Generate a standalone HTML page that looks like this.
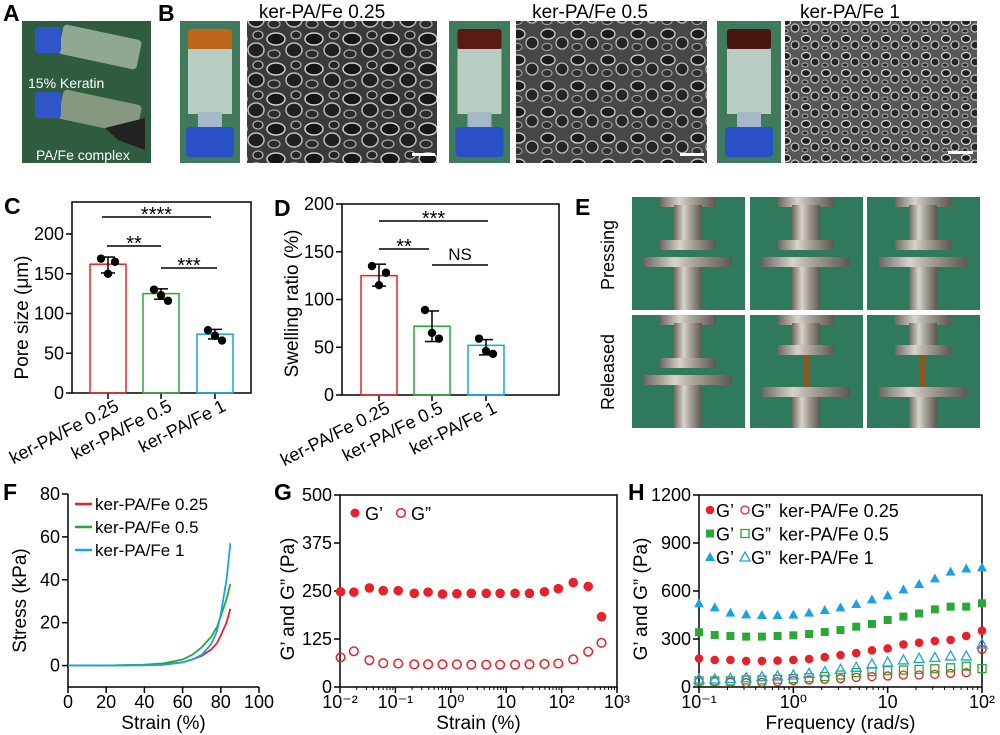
<!DOCTYPE html>
<html><head><meta charset="utf-8"><style>
body{margin:0;background:#fff}
svg{display:block;font-family:"Liberation Sans",Arial,sans-serif}
</style></head><body>
<svg id="fig" width="1000" height="735" viewBox="0 0 1000 735">
<defs>
<pattern id="foam1" width="38" height="30" patternUnits="userSpaceOnUse">
<rect width="38" height="30" fill="#3a3a3a"/>
<ellipse cx="10" cy="9" rx="9" ry="6" fill="#161616" stroke="#cfcfcf" stroke-width="1.5"/>
<ellipse cx="28" cy="20" rx="8" ry="7" fill="#202020" stroke="#bdbdbd" stroke-width="1.5"/>
<ellipse cx="8" cy="24" rx="6" ry="4" fill="#2a2a2a" stroke="#aaa" stroke-width="1.2"/>
<ellipse cx="30" cy="5" rx="5" ry="4" fill="#252525" stroke="#b5b5b5" stroke-width="1.2"/>
</pattern>
<pattern id="foam2" width="30" height="26" patternUnits="userSpaceOnUse">
<rect width="30" height="26" fill="#474747"/>
<ellipse cx="8" cy="8" rx="7" ry="5" fill="#1c1c1c" stroke="#cfcfcf" stroke-width="1.3"/>
<ellipse cx="22" cy="17" rx="6" ry="6" fill="#262626" stroke="#bbb" stroke-width="1.3"/>
<ellipse cx="7" cy="21" rx="5" ry="3.5" fill="#303030" stroke="#aaa" stroke-width="1"/>
</pattern>
<pattern id="foam3" width="20" height="17" patternUnits="userSpaceOnUse">
<rect width="20" height="17" fill="#575757"/>
<ellipse cx="6" cy="5" rx="4.5" ry="3.5" fill="#1e1e1e" stroke="#d5d5d5" stroke-width="1.2"/>
<ellipse cx="15" cy="11" rx="4" ry="4" fill="#262626" stroke="#c5c5c5" stroke-width="1.2"/>
<ellipse cx="5" cy="14" rx="3" ry="2" fill="#2a2a2a" stroke="#aaa" stroke-width="1"/>
</pattern>
<linearGradient id="metal" x1="0" x2="1" y1="0" y2="0">
<stop offset="0" stop-color="#6d675f"/><stop offset="0.35" stop-color="#d8d3cb"/><stop offset="0.6" stop-color="#a39d94"/><stop offset="1" stop-color="#5c574f"/>
</linearGradient>
</defs>

<!-- Panel A -->
<text x="3" y="21" font-size="23" font-weight="bold">A</text>
<g>
<rect x="22" y="21" width="129" height="142" fill="#2f5c3e"/>
<rect x="60" y="32" width="80" height="30" rx="4" fill="#b9c7b6" opacity="0.7" transform="rotate(12 100 47)"/>
<rect x="35" y="27" width="26" height="26" rx="3" fill="#2e56c9"/>
<rect x="60" y="97" width="80" height="30" rx="4" fill="#a9b49e" opacity="0.7" transform="rotate(12 100 112)"/>
<rect x="35" y="92" width="26" height="26" rx="3" fill="#2e56c9"/>
<path d="M105 128 L145 118 L145 150 L118 140 Z" fill="#222"/>
<text x="28" y="88" font-size="14" fill="#fff">15% Keratin</text>
<text x="36" y="160" font-size="14" fill="#fff">PA/Fe complex</text>
</g>

<!-- Panel B -->
<text x="158" y="21" font-size="23" font-weight="bold">B</text>
<text x="322" y="18" font-size="19" text-anchor="middle">ker-PA/Fe 0.25</text>
<text x="590" y="18" font-size="19" text-anchor="middle">ker-PA/Fe 0.5</text>
<text x="850" y="18" font-size="19" text-anchor="middle">ker-PA/Fe 1</text>
<g id="bottles"></g>
<rect x="247" y="21" width="190" height="142" fill="url(#foam1)"/>
<rect x="412" y="153" width="23" height="3" fill="#fff"/>
<rect x="516" y="21" width="191" height="142" fill="url(#foam2)"/>
<rect x="680" y="153" width="24" height="3" fill="#fff"/>
<rect x="785" y="21" width="192" height="142" fill="url(#foam3)"/>
<rect x="948" y="151" width="25" height="3" fill="#fff"/>

<!-- Panel E -->
<text x="575" y="215" font-size="23" font-weight="bold">E</text>
<text transform="translate(614 255) rotate(-90)" font-size="18" text-anchor="middle">Pressing</text>
<text transform="translate(614 372) rotate(-90)" font-size="18" text-anchor="middle">Released</text>
<g id="rheo"></g>

<g id="pC"></g><g id="pD"></g><g id="pF"></g><g id="pG"></g><g id="pH"></g>
</svg>
<script>
// ---------- data ----------
const groups = ["ker-PA/Fe 0.25","ker-PA/Fe 0.5","ker-PA/Fe 1"];
const poreMean = [162,125,74];
const poreErrHi = [171,131,80];
const poreErrLo = [151,118,68];
const porePts = [[169,165,150],[130,116,123],[79,66,72]];
const swellMean = [125,72,52];
const swellErrHi = [137,88,58];
const swellErrLo = [114,56,42];
const swellPts = [[135,128,115],[89,59,65],[59,43,46]];
const strainF = [0,20,40,50,60,65,70,75,78,80,83,85];
const stressRed = [0,0,0.3,0.6,1.5,2.8,4.5,7.5,10.5,14,20,26.5];
const stressGreen = [0,0,0.4,1,2.8,5,8.5,13.5,18,23,31,38];
const stressBlue = [0,0,0.1,0.3,1.5,2.8,5,10,16,24,40,57];
const gStrainLog = [-1.99,-1.75,-1.47,-1.22,-0.95,-0.66,-0.41,-0.15,0.11,0.37,0.64,0.89,1.16,1.42,1.69,1.94,2.21,2.48,2.72];
const gStorage = [248,247,258,251,251,244,247,242,243,244,244,244,244,244,248,256,272,262,183];
const gLoss = [77,93,70,62,61,59,59,59,59,58,58,58,58,59,60,61,72,92,115];
const freqLog = [-1,-0.833,-0.667,-0.5,-0.333,-0.167,0,0.167,0.333,0.5,0.667,0.833,1,1.167,1.333,1.5,1.667,1.833,2];
const hRedS = [178,169,169,163,163,165,169,175,187,200,212,229,241,266,277,288,294,319,352];
const hRedL = [33,33,29,27,29,33,40,44,48,52,60,65,69,75,75,79,85,90,235];
const hGreenS = [342,325,319,315,315,319,323,331,344,356,377,394,419,440,460,485,502,502,523];
const hGreenL = [38,38,38,44,44,48,52,58,65,75,90,96,102,106,110,114,120,130,115];
const hBlueS = [523,498,465,454,450,450,452,465,481,498,519,548,573,610,644,679,721,741,748];
const hBlueL = [50,50,54,58,65,69,75,85,96,110,123,144,156,169,179,185,194,194,269];
const barColors = ["#e8202a","#2aa836","#1aa3e0"];

const NS="http://www.w3.org/2000/svg";
function mk(p,tag,at,txt){const e=document.createElementNS(NS,tag);for(const k in at)e.setAttribute(k,at[k]);if(txt!==undefined)e.textContent=txt;p.appendChild(e);return e;}
function lin(d0,d1,r0,r1){return v=>r0+(v-d0)/(d1-d0)*(r1-r0);}

// bottles
const bot=document.getElementById('bottles');
[[180,240,"#c0661a"],[449,510,"#5a1a12"],[717,781,"#4a1410"]].forEach((b,i)=>{
  const g=mk(bot,'g',{});
  
  
  const w=b[1]-b[0],cx=(b[0]+b[1])/2;
  mk(g,'rect',{x:b[0],y:21,width:w,height:142,fill:"#3f7a5a"});
  mk(g,'rect',{x:cx-22,y:29,width:44,height:20,rx:3,fill:b[2]});
  mk(g,'rect',{x:cx-22,y:49,width:44,height:65,fill:"#b8ccc2"});
  mk(g,'rect',{x:cx-12,y:112,width:24,height:16,fill:"#a4b8c8"});
  mk(g,'rect',{x:cx-24,y:127,width:48,height:30,rx:4,fill:"#2a50c8"});
});
// rheometer photos
const rh=document.getElementById('rheo');
const cols=[632,750,867],rows=[197,315];
rows.forEach((y,ri)=>cols.forEach((x,ci)=>{
  const g=mk(rh,'g',{});
  
  
  const cx=x+56;
  mk(g,'rect',{x:x,y:y,width:113,height:113,fill:"#2f7a5c"});
  mk(g,'rect',{x:cx-28,y:y,width:56,height:10,fill:"url(#metal)"});
  mk(g,'rect',{x:cx-14,y:y+8,width:28,height:(ri&&ci)?30:38,fill:"url(#metal)"});
  const up=(ri&&ci)?y+30:y+43;
  mk(g,'rect',{x:cx-28,y:up,width:56,height:10,fill:"url(#metal)"});
  const low=(ri&&ci)?y+72:y+60;
  if(ri&&ci) mk(g,'rect',{x:cx-3,y:up+10,width:6,height:low-up-10,fill:"#8a5520"});
  mk(g,'rect',{x:cx-44,y:low,width:88,height:10,fill:"url(#metal)"});
  mk(g,'rect',{x:cx-14,y:low+10,width:28,height:113-(low-y)-10,fill:"url(#metal)"});
}));

function axisText(g,x,y,t,anchor,size,name){const e=mk(g,'text',{x:x,y:y,'font-size':size,'text-anchor':anchor},t);return e;}

// ---------- bar panels ----------
// y200 = pixel position of value 200; T = frame top
function barPanel(id,letter,L,R,T,B,y200,ticks,centers,mean,hi,lo,pts,ytitle,sig){
  const g=document.getElementById(id);
  const yy=lin(0,200,B,y200);
  axisText(g,L-68,T+12,letter,'start',23,'panel-label-'+letter.toLowerCase()).setAttribute('font-weight','bold');
  mk(g,'rect',{x:L,y:T,width:R-L,height:B-T,fill:'none',stroke:'#000','stroke-width':1.5});
  ticks.forEach(t=>{const py=yy(t);mk(g,'line',{x1:L-6,x2:L,y1:py,y2:py,stroke:'#000','stroke-width':1.5});
    axisText(g,L-8,py+6,String(t),'end',18,'y-tick-label');});
  const tt=axisText(g,0,0,ytitle,'middle',19,'y-axis-title');tt.setAttribute('transform',`translate(${L-44} ${(y200+B)/2+4}) rotate(-90)`);
  centers.forEach((cx,i)=>{
    mk(g,'line',{x1:cx,x2:cx,y1:B,y2:B+6,stroke:'#000','stroke-width':1.5});
    const r=mk(g,'rect',{x:cx-18,y:yy(mean[i]),width:36,height:B-yy(mean[i]),fill:'none',stroke:barColors[i],'stroke-width':1.5});
    
    mk(g,'line',{x1:cx,x2:cx,y1:yy(hi[i]),y2:yy(lo[i]),stroke:'#000','stroke-width':1.5});
    mk(g,'line',{x1:cx-7,x2:cx+7,y1:yy(hi[i]),y2:yy(hi[i]),stroke:'#000','stroke-width':1.5});
    mk(g,'line',{x1:cx-7,x2:cx+7,y1:yy(lo[i]),y2:yy(lo[i]),stroke:'#000','stroke-width':1.5});
    const dx=[-7,7,0];
    pts[i].forEach((v,j)=>{const c=mk(g,'circle',{cx:cx+dx[j],cy:yy(v),r:4.2,fill:'#000'});
      });
    const lb=axisText(g,0,0,groups[i],'end',18,'x-tick-label');lb.setAttribute('transform',`translate(${cx+12} ${B+17}) rotate(-27)`);
  });
  sig.forEach(s=>{mk(g,'line',{x1:s[0],x2:s[1],y1:s[2],y2:s[2],stroke:'#000','stroke-width':1.5});
    axisText(g,(s[0]+s[1])/2,s[2]-(s[3]=='NS'?5:-4),s[3],'middle',s[3]=='NS'?17:20,'significance-label');});
}
barPanel('pC','C',72,251,202,393,234,[0,50,100,150,200],[108,161,215],poreMean,poreErrHi,poreErrLo,porePts,'Pore size (μm)',
  [[102,211,217,'****'],[107,161,246,'**'],[161,217,268,'***']]);
barPanel('pD','D',342,559,204,395,204,[0,50,100,150,200],[379,432,486],swellMean,swellErrHi,swellErrLo,swellPts,'Swelling ratio (%)',
  [[379,488,221,'***'],[379,429,249,'**'],[432,488,265,'NS']]);

// ---------- F ----------
(function(){
  const g=document.getElementById('pF');
  const L=68,R=259,T=494,B=687;
  const x=lin(0,100,L,R), y=lin(-10,80,B,T);
  axisText(g,3,500,'F','start',23,'panel-label-f').setAttribute('font-weight','bold');
  mk(g,'path',{d:`M${L} ${T} V${B} H${R}`,fill:'none',stroke:'#000','stroke-width':1.5});
  [0,20,40,60,80].forEach(t=>{mk(g,'line',{x1:L-6,x2:L,y1:y(t),y2:y(t),stroke:'#000','stroke-width':1.5});axisText(g,L-8,y(t)+6,String(t),'end',18,'y-tick-label');});
  [0,20,40,60,80,100].forEach(t=>{mk(g,'line',{x1:x(t),x2:x(t),y1:B,y2:B+6,stroke:'#000','stroke-width':1.5});axisText(g,x(t),B+21,String(t),'middle',18,'x-tick-label');});
  axisText(g,(L+R)/2,B+42,'Strain (%)','middle',19,'x-axis-title');
  const yt=axisText(g,0,0,'Stress (kPa)','middle',19,'y-axis-title');yt.setAttribute('transform',`translate(${L-42} ${(T+B)/2+10}) rotate(-90)`);
  [[stressRed,'#e8202a'],[stressGreen,'#2aa836'],[stressBlue,'#1aa3e0']].forEach((s,i)=>{
    const p=mk(g,'polyline',{points:strainF.map((v,k)=>x(v)+','+y(s[0][k])).join(' '),fill:'none',stroke:s[1],'stroke-width':1.8});
    
    mk(g,'line',{x1:75,x2:92,y1:504+i*23,y2:504+i*23,stroke:s[1],'stroke-width':2.5});
    axisText(g,95,510+i*23,groups[i],'start',17,'legend-entry');
  });
})();

// ---------- G ----------
(function(){
  const g=document.getElementById('pG');
  const L=340,R=617,T=495,B=687;
  const x=lin(-2,3,L,R), y=lin(0,500,B,T);
  axisText(g,274,500,'G','start',23,'panel-label-g').setAttribute('font-weight','bold');
  mk(g,'rect',{x:L,y:T,width:R-L,height:B-T,fill:'none',stroke:'#000','stroke-width':1.5});
  [0,125,250,375,500].forEach(t=>{mk(g,'line',{x1:L-6,x2:L,y1:y(t),y2:y(t),stroke:'#000','stroke-width':1.5});axisText(g,L-8,y(t)+6,String(t),'end',18,'y-tick-label');});
  const labs=['10⁻²','10⁻¹','10⁰','10','10²','10³'];
  [-2,-1,0,1,2,3].forEach((t,i)=>{mk(g,'line',{x1:x(t),x2:x(t),y1:B,y2:B+6,stroke:'#000','stroke-width':1.5});axisText(g,x(t),B+21,labs[i],'middle',18,'x-tick-label');
    if(t<3)for(let m=2;m<10;m++){const px=x(t+Math.log10(m));mk(g,'line',{x1:px,x2:px,y1:B,y2:B+3,stroke:'#000','stroke-width':1});}});
  axisText(g,(L+R)/2,B+42,'Strain (%)','middle',19,'x-axis-title');
  const yt=axisText(g,0,0,'G’ and G” (Pa)','middle',19,'y-axis-title');yt.setAttribute('transform',`translate(${L-46} ${(T+B)/2+8}) rotate(-90)`);
  gStrainLog.forEach((lv,i)=>{
    const a=mk(g,'circle',{cx:x(lv),cy:y(gStorage[i]),r:4.8,fill:'#e8202a'});
    const b=mk(g,'circle',{cx:x(lv),cy:y(gLoss[i]),r:4.3,fill:'none',stroke:'#e8202a','stroke-width':1.5});
  });
  mk(g,'circle',{cx:355,cy:513,r:4.5,fill:'#e8202a'});axisText(g,365,520,'G’','start',18,'legend-entry');
  mk(g,'circle',{cx:401,cy:513,r:4.3,fill:'none',stroke:'#e8202a','stroke-width':1.5});axisText(g,411,520,'G”','start',18,'legend-entry');
})();

// ---------- H ----------
(function(){
  const g=document.getElementById('pH');
  const L=699,R=982,T=495,B=687;
  const x=lin(-1,2,L,R), y=lin(0,1200,B,T);
  axisText(g,628,500,'H','start',23,'panel-label-h').setAttribute('font-weight','bold');
  mk(g,'rect',{x:L,y:T,width:R-L,height:B-T,fill:'none',stroke:'#000','stroke-width':1.5});
  [0,300,600,900,1200].forEach(t=>{mk(g,'line',{x1:L-6,x2:L,y1:y(t),y2:y(t),stroke:'#000','stroke-width':1.5});axisText(g,L-8,y(t)+6,String(t),'end',18,'y-tick-label');});
  const labs=['10⁻¹','10⁰','10','10²'];
  [-1,0,1,2].forEach((t,i)=>{mk(g,'line',{x1:x(t),x2:x(t),y1:B,y2:B+6,stroke:'#000','stroke-width':1.5});axisText(g,x(t),B+21,labs[i],'middle',18,'x-tick-label');
    if(t<2)for(let m=2;m<10;m++){const px=x(t+Math.log10(m));mk(g,'line',{x1:px,x2:px,y1:B,y2:B+3,stroke:'#000','stroke-width':1});}});
  axisText(g,(L+R)/2,B+42,'Frequency (rad/s)','middle',19,'x-axis-title');
  const yt=axisText(g,0,0,'G’ and G” (Pa)','middle',19,'y-axis-title');yt.setAttribute('transform',`translate(${L-52} ${(T+B)/2+8}) rotate(-90)`);
  function mark(cx,cy,shape,col,filled,name){
    let e;const st=filled?{fill:col}:{fill:'none',stroke:col,'stroke-width':1.3};
    if(shape=='c')e=mk(g,'circle',Object.assign({cx:cx,cy:cy,r:filled?4.3:4},st));
    else if(shape=='s')e=mk(g,'rect',Object.assign({x:cx-4,y:cy-4,width:8,height:8},st));
    else e=mk(g,'polygon',Object.assign({points:`${cx},${cy-5} ${cx-5},${cy+4} ${cx+5},${cy+4}`},st));
    }
  const sets=[[hRedS,hRedL,'c','#e8202a'],[hGreenS,hGreenL,'s','#2aa836'],[hBlueS,hBlueL,'t','#1aa3e0']];
  sets.forEach((s,k)=>{
    freqLog.forEach((lv,i)=>{mark(x(lv),y(s[1][i]),s[2],s[3],false,'loss-modulus-point');});
    freqLog.forEach((lv,i)=>{mark(x(lv),y(s[0][i]),s[2],s[3],true,'storage-modulus-point');});
    const ly=510+k*23.5;
    mark(710,ly,s[2],s[3],true,'legend-marker');axisText(g,716,ly+7,'G’','start',18,'legend-entry');
    mark(745,ly,s[2],s[3],false,'legend-marker');axisText(g,751,ly+7,'G”','start',18,'legend-entry');
    axisText(g,779,ly+7,groups[k],'start',18,'legend-entry');
  });
})();
</script>
</body></html>
